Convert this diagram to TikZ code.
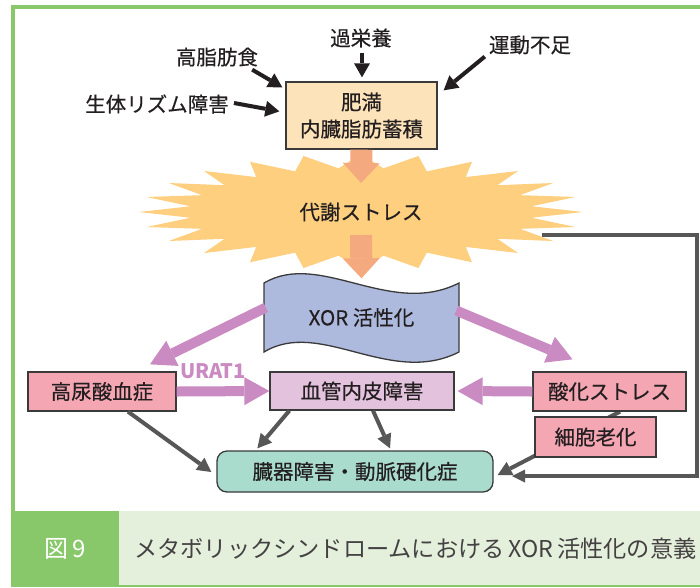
\documentclass[tikz,border=0pt]{standalone}
\usepackage{fontspec}
\setmainfont{Noto Sans CJK JP}[FakeBold=0.4]
\newfontfamily\capfont{Noto Sans CJK JP}
\usetikzlibrary{arrows.meta,calc}
\pgfdeclarelayer{bg}
\pgfsetlayers{bg,main}
\definecolor{frgreen}{HTML}{88C76A}
\definecolor{caplight}{HTML}{E4F0DC}
\definecolor{txt}{HTML}{231F20}
\definecolor{boxline}{HTML}{3A3A3A}
\definecolor{fatfill}{HTML}{FDE3B9}
\definecolor{starfill}{HTML}{FDCF7E}
\definecolor{orgarrow}{HTML}{F5A97E}
\definecolor{xorfill}{HTML}{AEBADD}
\definecolor{pinkarrow}{HTML}{C98BC1}
\definecolor{pinkfill}{HTML}{F4A6B3}
\definecolor{endofill}{HTML}{E2C2DD}
\definecolor{organfill}{HTML}{A9DCCD}
\definecolor{gryarrow}{HTML}{575757}
\definecolor{blkarrow}{HTML}{231F20}
\begin{document}
\begin{tikzpicture}[x=1pt,y=-1pt,
  lbl/.style={inner sep=0pt, font=\fontsize{20.5}{24}\selectfont, text=txt},
  box/.style={draw=boxline, line width=1.3pt, inner sep=0pt, font=\fontsize{20.5}{27}\selectfont, text=txt, align=center},
  blk/.style={draw=blkarrow, line width=4pt, -{Triangle[length=14pt,width=16pt,line width=0pt]}},
  gry/.style={draw=gryarrow, line width=4pt, -{Triangle[length=14pt,width=15pt,line width=0pt]}},
  pnk/.style={draw=pinkarrow, line width=10pt, -{Triangle[length=25pt,width=28pt,line width=0pt]}},
  org/.style={draw=orgarrow, line width=22pt, -{Triangle[length=20pt,width=37pt,line width=0pt]}},
]
\useasboundingbox (0,0) rectangle (700,587);
\begin{pgfonlayer}{bg}
\fill[white] (0,0) rectangle (700,587);
\end{pgfonlayer}
% frame
\draw[frgreen, line width=3.5pt] (13,511) -- (13,7) -- (700,7);
% caption band
\fill[caplight] (119,511) rectangle (700,586);
\fill[frgreen] (11,511) rectangle (119,587);
\draw[frgreen, line width=1.5pt] (119,586) -- (700,586);
\node[inner sep=0pt, text=white, font=\capfont\fontsize{24}{28}\selectfont] (fig) at (65,549) {図\,9};
\node[inner sep=0pt, text=txt!85, font=\capfont\fontsize{23.2}{28}\selectfont, anchor=west] (cap) at (134,549) {メタボリックシンドロームにおける\,XOR\,活性化の意義};

% starburst
\fill[starfill] (583,212) \foreach \a in {0,15,...,345} {
  -- ({361+172*cos(\a+7.5)},{212+44*sin(\a+7.5)}) -- ({361+222*cos(\a+15)},{212+58*sin(\a+15)}) } -- cycle;
\node[lbl] (stress) at (361,212) {代謝ストレス};

% fat box
\node[box, fill=fatfill, minimum width=151pt, minimum height=67pt] (fat) at (361.5,115.5) {肥満\\内臓脂肪蓄積};

% XOR wave shape
\filldraw[fill=xorfill, draw=boxline, line width=1.3pt] (264,283) .. controls (320,250) and (390,318) .. (459,283) -- (459,352) .. controls (390,387) and (320,318) .. (264,352) -- cycle;
\node[lbl, minimum width=195pt, minimum height=70pt] (xor) at (361.5,317.5) {XOR 活性化};

% orange arrows
\draw[org] (fat.south) -- ($(stress)+(0,-29)$);
\draw[org] ($(stress)+(0,23)$) -- ($(xor.north)+(0,-4)$);

% top labels
\node[lbl] (kaeiyo) at (361,38) {過栄養};
\node[lbl] (koshi) at (217,57) {高脂肪食};
\node[lbl] (seitai) at (157,104) {生体リズム障害};
\node[lbl] (undo) at (530,45) {運動不足};
\draw[blk] ($(kaeiyo.south)+(1,5)$) -- ($(fat.north)+(0.5,-4)$);
\draw[blk] ($(koshi.south east)+(-6,3)$) -- ($(fat.north west)+(-3,6)$);
\draw[blk] ($(seitai.east)+(5,-1)$) -- ($(fat.north west)+(-6,30)$);
\draw[blk] ($(undo.south west)+(-4,2)$) -- ($(fat.north east)+(6,9)$);

% lower boxes
\node[box, fill=pinkfill, minimum width=148pt, minimum height=39pt] (urate) at (102,391.5) {高尿酸血症};
\node[box, fill=endofill, minimum width=184pt, minimum height=38pt] (endo) at (362,391) {血管内皮障害};
\node[box, fill=pinkfill, minimum width=153pt, minimum height=39pt] (oxid) at (609.5,391.5) {酸化ストレス};
\node[box, fill=pinkfill, minimum width=121pt, minimum height=40pt] (senes) at (595.5,437) {細胞老化};
\node[box, fill=organfill, rounded corners=10pt, minimum width=276pt, minimum height=41pt] (organ) at (355,471.5) {臓器障害・動脈硬化症};

% pink arrows
\draw[pnk] ($(xor.west)+(2,-10)$) -- ($(urate.north)+(48,-7)$);
\draw[pnk] ($(xor.east)+(-3,-7)$) -- ($(oxid.north)+(-37,-12)$);
\draw[pnk] (urate.east) -- (endo.west);
\node[inner sep=0pt, text=pinkarrow, font=\capfont\fontsize{20}{22}\selectfont\bfseries] (urat) at (213,371) {URAT1};
\draw[pnk, shorten >=3pt] (oxid.west) -- (endo.east);

% gray arrows
\draw[gry] ($(urate.south)+(26,0)$) -- ($(organ.west)+(-5,0.5)$);
\draw[gry] ($(endo.south west)+(20,0)$) -- ($(organ.north west)+(41,-2)$);
\draw[gry] ($(endo.south)+(11,0)$) -- ($(organ.north)+(35,-2)$);
\begin{pgfonlayer}{bg}
\draw[gry] ($(oxid.south)+(10.5,0)$) -- ($(organ.east)+(4,3.5)$);
\end{pgfonlayer}
\coordinate (fbstart) at (542,235);
\coordinate (fbend) at (512,476);
\draw[gry, line width=3.5pt, -{Triangle[length=13pt,width=13pt,line width=0pt]}] (fbstart) -- (697,235) -- (697,476) -- (fbend);
\end{tikzpicture}
\end{document}
